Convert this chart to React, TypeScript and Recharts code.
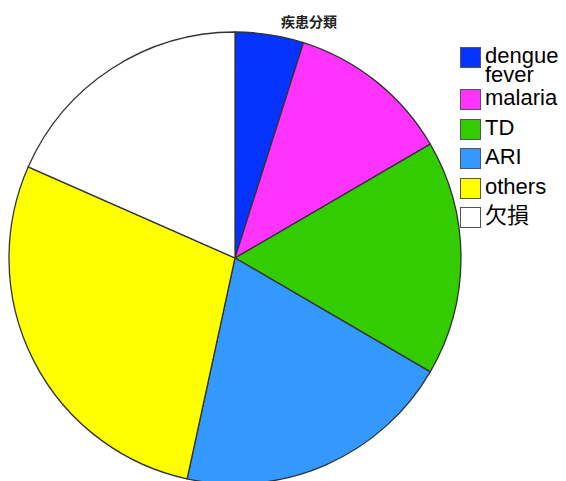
import React from 'react';
import { Cell, Pie, PieChart } from 'recharts';

const categories = ['dengue fever', 'malaria', 'TD', 'ARI', 'others', '欠損'];
const values = [4.9, 11.7, 16.8, 20.0, 28.2, 18.4];
const colors = ['#0433ff', '#ff33ff', '#33cc00', '#3399ff', '#ffff00', '#ffffff'];

const data = categories.map((name, i) => ({ name, value: values[i] }));

const LegendBox: React.FC = () => {
  return (
    <div
      style={{
        position: 'absolute',
        left: 460,
        top: 46,
        width: 106,
        fontFamily: '"Liberation Sans", Arial, "Noto Sans CJK JP", sans-serif',
        fontSize: 22
      }}
    >
      {categories.map((name, i) => (
        <div
          key={name}
          style={{ display: 'flex', alignItems: 'flex-start', height: i === 0 ? 42 : 29.5 }}
        >
          <span
            style={{
              display: 'inline-block',
              width: 19,
              height: 19,
              background: colors[i],
              border: '1px solid #555',
              marginTop: 1,
              marginRight: 4,
              flexShrink: 0
            }}
          />
          <span style={{ lineHeight: '19px', width: 80, color: '#000' }}>{name}</span>
        </div>
      ))}
    </div>
  );
};

const App: React.FC = () => {
  return (
    <div style={{ position: 'absolute', left: 0, top: 0, width: 566, height: 481, background: '#fff' }}>
      <PieChart width={566} height={481} margin={{ top: 0, right: 0, bottom: 0, left: 0 }}>
        <text
          x={309}
          y={27}
          textAnchor="middle"
          fontFamily='"Noto Sans CJK JP", sans-serif'
          fontWeight="bold"
          fontSize={14}
          fill="#222"
        >
          疾患分類
        </text>
        <Pie
          data={data}
          dataKey="value"
          nameKey="name"
          cx={235}
          cy={258}
          outerRadius={226}
          startAngle={90}
          endAngle={-270}
          stroke="#333"
          strokeWidth={1.3}
          isAnimationActive={false}
        >
          {data.map((d, i) => (
            <Cell key={d.name} fill={colors[i]} />
          ))}
        </Pie>
      </PieChart>
      <LegendBox />
    </div>
  );
};

export default App;
